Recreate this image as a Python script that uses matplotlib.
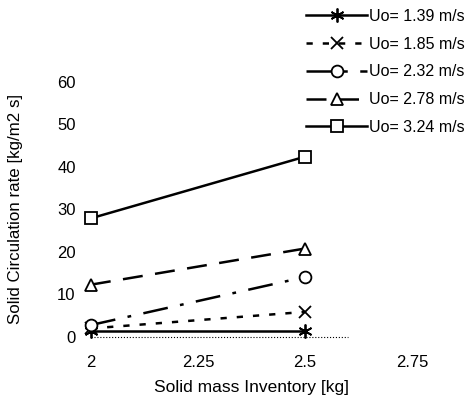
import matplotlib
matplotlib.use("Agg")
import matplotlib.pyplot as plt

plt.rcParams['font.family'] = ['Liberation Sans', 'DejaVu Sans']

inventory = [2.0, 2.5]
labels = ["Uo= 1.39 m/s", "Uo= 1.85 m/s", "Uo= 2.32 m/s", "Uo= 2.78 m/s", "Uo= 3.24 m/s"]
rate_139 = [1.5, 1.5]
rate_185 = [2.0, 5.9]
rate_232 = [2.8, 14.1]
rate_278 = [12.3, 20.8]
rate_324 = [27.9, 42.4]
x_ticks = [2, 2.25, 2.5, 2.75]
x_ticklabels = ["2", "2.25", "2.5", "2.75"]
y_ticks = [0, 10, 20, 30, 40, 50, 60]

series = [rate_139, rate_185, rate_232, rate_278, rate_324]
markers = [(6, 2, 0), 'x', 'o', '^', 's']
dashes = [None, (2.5, 4), (10, 5, 1.5, 5), (8, 5), None]
msizes = [10, 8.5, 8.5, 8.5, 8.5]

fig = plt.figure(figsize=(4.76, 4.05), dpi=100)
ax = fig.add_axes([0.191, 0.168, 0.675, 0.630])

handles = []
for vals, mk, ds, ms, lab in zip(series, markers, dashes, msizes, labels):
    kw = dict(color='black', lw=1.8, marker=mk, markersize=ms,
              markerfacecolor='white', markeredgecolor='black', markeredgewidth=1.3,
              label=lab, clip_on=False)
    if ds is None:
        ln, = ax.plot(inventory, vals, linestyle='-', **kw)
    else:
        ln, = ax.plot(inventory, vals, linestyle='--', dashes=ds, **kw)
    handles.append(ln)

ax.plot([2.0, 2.6], [0, 0], color='black', lw=0.8, linestyle=':', clip_on=False)

ax.set_xlim(2, 2.75)
ax.set_ylim(0, 60)
ax.set_xticks(x_ticks)
ax.set_xticklabels(x_ticklabels)
ax.set_yticks(y_ticks)
for s in ax.spines.values():
    s.set_visible(False)
ax.tick_params(axis='x', length=0, labelsize=12, pad=13)
ax.tick_params(axis='y', length=0, labelsize=12, pad=11)
ax.set_xlabel("Solid mass Inventory [kg]", fontsize=12.5, labelpad=7)
ax.set_ylabel("Solid Circulation rate [kg/m2 s]", fontsize=12.2)
ax.yaxis.set_label_coords(-0.21, 0.5)

fig.legend(handles=handles, loc='upper left', bbox_to_anchor=(0.625, 1.0),
           frameon=False, fontsize=11.5, handlelength=3.8, handletextpad=0.1,
           labelspacing=0.8, borderaxespad=0.15)

fig.savefig("out.png", dpi=100)
